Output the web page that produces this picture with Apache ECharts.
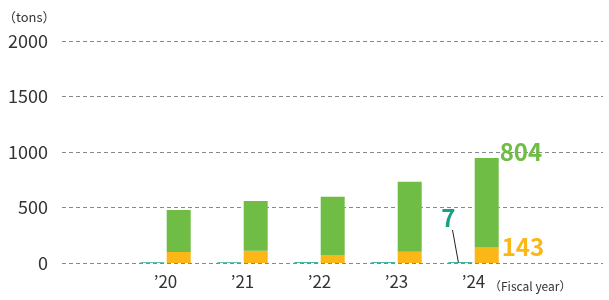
<!DOCTYPE html>
<html><head><meta charset="utf-8">
<script src="https://cdn.jsdelivr.net/npm/echarts@6/dist/echarts.min.js"></script>
<style>html,body{margin:0;padding:0;background:#fff}#c{width:609px;height:300px}</style>
</head><body><div id="c"></div>
<script>
const categories = ['’20', '’21', '’22', '’23', '’24'];
const tealValues = [6, 6, 7, 7, 7];
const orangeValues = [99, 111, 72, 102, 143];
const greenValues = [378, 447, 525, 630, 804];
const yTicks = [0, 500, 1000, 1500, 2000];

const FONT = '"Noto Sans CJK JP", "Noto Sans", sans-serif';
const TEAL = '#17a084', ORANGE = '#fbb617', GREEN = '#70bd45';
const last = categories.length - 1;

const chart = echarts.init(document.getElementById('c'), null, {renderer: 'canvas'});
chart.setOption({
  animation: false,
  textStyle: {fontFamily: FONT},
  title: [
    {text: '（tons）', left: -2, top: 6, textStyle: {fontSize: 13, fontWeight: 'normal', color: '#333', fontFamily: FONT}},
    {text: '（Fiscal year）', left: 484, top: 275, textStyle: {fontSize: 12, fontWeight: 'normal', color: '#333', fontFamily: FONT}}
  ],
  grid: [
    {left: 62, right: 6, top: 41, bottom: 37},
    {left: 127, right: 97, top: 41, bottom: 37}
  ],
  xAxis: [
    {type: 'category', gridIndex: 0, data: [''], show: false},
    {type: 'category', gridIndex: 1, data: categories,
     axisLine: {show: false}, axisTick: {show: false},
     axisLabel: {fontSize: 17, color: '#333', margin: 10, fontFamily: FONT}}
  ],
  yAxis: [
    {type: 'value', gridIndex: 0, min: yTicks[0], max: yTicks[yTicks.length - 1], interval: 500,
     axisLine: {show: false}, axisTick: {show: false},
     axisLabel: {fontSize: 18, color: '#333', margin: 14, fontFamily: FONT, formatter: v => String(v)},
     splitLine: {lineStyle: {type: [4, 3], color: '#888', width: 1}}},
    {type: 'value', gridIndex: 1, min: yTicks[0], max: yTicks[yTicks.length - 1], interval: 500, show: false,
     splitLine: {show: false}}
  ],
  series: [
    {type: 'bar', xAxisIndex: 1, yAxisIndex: 1, barWidth: 24, barGap: '10%',
     itemStyle: {color: TEAL},
     data: tealValues.map((v, i) => i === last ? {
       value: v,
       label: {show: true, position: [0, -44], align: 'center', verticalAlign: 'middle', formatter: '{c}', color: TEAL, fontSize: 24, fontWeight: 'bold', fontFamily: FONT}
     } : v)
    },
    {type: 'bar', xAxisIndex: 1, yAxisIndex: 1, stack: 's', barWidth: 24,
     itemStyle: {color: ORANGE},
     data: orangeValues.map((v, i) => i === last ? {
       value: v,
       label: {show: true, position: [27, 0], align: 'left', verticalAlign: 'middle', formatter: '{c}', color: ORANGE, fontSize: 24, fontWeight: 'bold', fontFamily: FONT}
     } : v)
    },
    {type: 'bar', xAxisIndex: 1, yAxisIndex: 1, stack: 's', barWidth: 24,
     itemStyle: {color: GREEN},
     data: greenValues.map((v, i) => i === last ? {
       value: v,
       label: {show: true, position: [25, -6], align: 'left', verticalAlign: 'middle', formatter: '{c}', color: GREEN, fontSize: 24, fontWeight: 'bold', fontFamily: FONT}
     } : v)
    }
  ]
});

// leader line for the small teal value, anchored to the data point via the axis scales
const base = chart.convertToPixel({xAxisIndex: 1, yAxisIndex: 1}, [last, 0]);
const tealX = base[0] - 13;
chart.setOption({
  graphic: [{
    type: 'line', silent: true,
    shape: {x1: tealX - 8, y1: base[1] - 33, x2: tealX - 2, y2: base[1]},
    style: {stroke: '#222', lineWidth: 1}
  }]
});
</script></body></html>
